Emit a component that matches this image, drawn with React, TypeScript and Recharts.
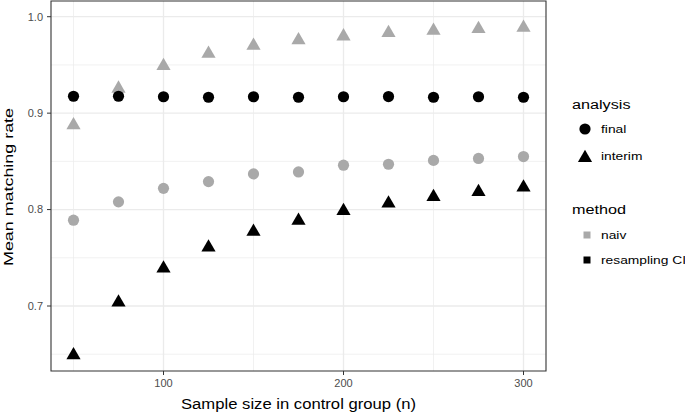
import React from "react";
import {
  ScatterChart,
  Scatter,
  XAxis,
  YAxis,
  CartesianGrid,
  ReferenceArea,
  Legend,
} from "recharts";

// sample size in control group (n)
const sampleSizes = [50, 75, 100, 125, 150, 175, 200, 225, 250, 275, 300];

// mean matching rate per analysis x method
const finalNaiv = [0.789, 0.808, 0.822, 0.829, 0.837, 0.839, 0.846, 0.847, 0.851, 0.853, 0.855];
const interimNaiv = [0.8875, 0.9255, 0.949, 0.9617, 0.97, 0.9756, 0.9797, 0.9832, 0.9856, 0.9873, 0.9887];
const finalResampling = [0.9175, 0.9175, 0.917, 0.9165, 0.917, 0.9165, 0.917, 0.9172, 0.9165, 0.917, 0.9165];
const interimResampling = [0.649, 0.7037, 0.739, 0.7607, 0.777, 0.7884, 0.7987, 0.8063, 0.8132, 0.8184, 0.8229];

const xTicks = [100, 200, 300];
const xMinor = [50, 150, 250];
const yTicks = [0.7, 0.8, 0.9, 1.0];
const yMinor = [0.65, 0.75, 0.85, 0.95];

const analysisLevels = ["final", "interim"];
const methodLevels = ["naiv", "resampling CI"];

const GRAY = "#A9A9A9";
const FONT = "'Liberation Sans', Arial, Helvetica, sans-serif";
const WIDE = 1.2; // reference text runs wider than Liberation Sans

const toPoints = (values: number[]) =>
  sampleSizes.map((n, i) => ({ n, rate: values[i] }));

function Dot(props: any) {
  const { cx, cy, fill } = props;
  return <circle cx={cx} cy={cy} r={5.6} fill={fill} />;
}

function Tri(props: any) {
  const { cx, cy, fill } = props;
  const h = 4.1;
  const w = h * Math.sqrt(3);
  const pts = `${cx},${cy - 2 * h} ${cx - w},${cy + h} ${cx + w},${cy + h}`;
  return <polygon points={pts} fill={fill} />;
}

function XTitle(props: any) {
  const { viewBox } = props;
  const cx = viewBox.x + viewBox.width / 2;
  return (
    <text
      x={cx}
      y={viewBox.y + 38}
      textAnchor="middle"
      fontSize={14}
      fill="#000"
      fontFamily={FONT}
      textLength={235}
      lengthAdjust="spacingAndGlyphs"
    >
      Sample size in control group (n)
    </text>
  );
}

function YTitle(props: any) {
  const { viewBox } = props;
  const cy = viewBox.y + viewBox.height / 2 + 1;
  const x = viewBox.x + 12.5;
  return (
    <text
      x={x}
      y={cy}
      transform={`rotate(-90 ${x} ${cy})`}
      textAnchor="middle"
      fontSize={13.5}
      fill="#000"
      fontFamily={FONT}
      textLength={158}
      lengthAdjust="spacingAndGlyphs"
    >
      Mean matching rate
    </text>
  );
}

function LegText({ x, y, size, children }: any) {
  return (
    <text transform={`translate(${x},${y}) scale(${WIDE},1)`} fontSize={size} fill="#000">
      {children}
    </text>
  );
}

function LegendBox() {
  return (
    <svg width={130} height={190} style={{ fontFamily: FONT, display: "block", overflow: "visible" }}>
      <LegText x={17} y={19} size={13.5}>analysis</LegText>
      <Dot cx={30} cy={39} fill="#000" />
      <LegText x={46} y={43} size={11.5}>{analysisLevels[0]}</LegText>
      <Tri cx={30} cy={68} fill="#000" />
      <LegText x={46} y={70} size={11.5}>{analysisLevels[1]}</LegText>

      <LegText x={17} y={124} size={13.5}>method</LegText>
      <rect x={28.5} y={141.5} width={7} height={7} fill={GRAY} />
      <LegText x={46} y={149} size={11.5}>{methodLevels[0]}</LegText>
      <rect x={28.5} y={166.5} width={7} height={7} fill="#000" />
      <LegText x={46} y={174} size={11.5}>{methodLevels[1]}</LegText>
    </svg>
  );
}

export default function App() {
  return (
    <div style={{ position: "absolute", left: 0, top: 0, background: "#fff" }}>
      <ScatterChart
        width={685}
        height={413}
        margin={{ top: 1, right: 139, left: 0, bottom: 0 }}
        style={{ fontFamily: FONT }}
      >
        <CartesianGrid
          horizontalValues={yMinor}
          verticalValues={xMinor}
          stroke="#EBEBEB"
          strokeWidth={0.7}
        />
        <CartesianGrid
          horizontalValues={yTicks}
          verticalValues={xTicks}
          stroke="#EBEBEB"
          strokeWidth={1.3}
        />
        <XAxis
          type="number"
          dataKey="n"
          domain={[37.5, 312.5]}
          ticks={xTicks}
          height={42}
          axisLine={false}
          tickLine={{ stroke: "#333" }}
          tickSize={4}
          tickMargin={4}
          tick={{ fill: "#4D4D4D", fontSize: 11 }}
          allowDataOverflow
          label={<XTitle />}
        />
        <YAxis
          type="number"
          dataKey="rate"
          domain={[0.6326, 1.0163]}
          ticks={yTicks}
          width={51}
          axisLine={false}
          tickLine={{ stroke: "#333" }}
          tickSize={4}
          tickMargin={4}
          tick={{ fill: "#4D4D4D", fontSize: 11 }}
          tickFormatter={(v: number) => v.toFixed(1)}
          allowDataOverflow
          label={<YTitle />}
        />
        <Scatter data={toPoints(finalNaiv)} fill={GRAY} shape={<Dot />} isAnimationActive={false} />
        <Scatter data={toPoints(interimNaiv)} fill={GRAY} shape={<Tri />} isAnimationActive={false} />
        <Scatter data={toPoints(finalResampling)} fill="#000" shape={<Dot />} isAnimationActive={false} />
        <Scatter data={toPoints(interimResampling)} fill="#000" shape={<Tri />} isAnimationActive={false} />
        <ReferenceArea
          x1={37.5}
          x2={312.5}
          y1={0.6326}
          y2={1.0163}
          fill="none"
          fillOpacity={0}
          stroke="#333"
          strokeWidth={1.1}
          ifOverflow="visible"
        />
        <Legend
          layout="vertical"
          align="center"
          verticalAlign="middle"
          content={<LegendBox />}
          wrapperStyle={{ left: 555, top: 90, width: 130 }}
        />
      </ScatterChart>
    </div>
  );
}
